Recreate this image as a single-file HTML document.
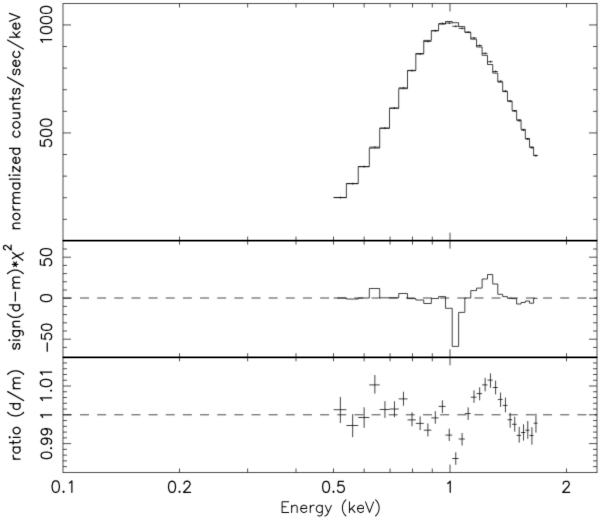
<!DOCTYPE html>
<html><head><meta charset="utf-8"><style>
html,body{margin:0;padding:0;background:#fff;overflow:hidden;width:600px;height:519px;}
svg{display:block;} path,line{mix-blend-mode:darken;}

</style></head><body>
<svg width="600" height="519" viewBox="0 0 600 519">
<defs><filter id="bl" color-interpolation-filters="sRGB" x="0" y="0" width="600" height="519" filterUnits="userSpaceOnUse"><feConvolveMatrix order="3" kernelMatrix="0.01 0.08 0.01 0.08 0.64 0.08 0.01 0.08 0.01" divisor="1" edgeMode="duplicate"/></filter></defs>
<rect width="600" height="519" fill="#fff"/>
<g filter="url(#bl)">
<rect width="600" height="519" fill="#fff"/>
<path d="M63.00,3.50L63.00,240.60M597.00,3.50L597.00,240.60M179.50,3.50L179.50,7.50M179.50,240.60L179.50,236.60M247.65,3.50L247.65,7.50M247.65,240.60L247.65,236.60M296.00,3.50L296.00,7.50M296.00,240.60L296.00,236.60M333.50,3.50L333.50,7.50M333.50,240.60L333.50,236.60M364.14,3.50L364.14,7.50M364.14,240.60L364.14,236.60M390.05,3.50L390.05,7.50M390.05,240.60L390.05,236.60M412.50,3.50L412.50,7.50M412.50,240.60L412.50,236.60M432.29,3.50L432.29,7.50M432.29,240.60L432.29,236.60M450.00,3.50L450.00,11.50M450.00,240.60L450.00,232.60M566.50,3.50L566.50,7.50M566.50,240.60L566.50,236.60M63.00,240.60L63.00,357.30M597.00,240.60L597.00,357.30M179.50,240.60L179.50,244.60M179.50,357.30L179.50,353.30M247.65,240.60L247.65,244.60M247.65,357.30L247.65,353.30M296.00,240.60L296.00,244.60M296.00,357.30L296.00,353.30M333.50,240.60L333.50,244.60M333.50,357.30L333.50,353.30M364.14,240.60L364.14,244.60M364.14,357.30L364.14,353.30M390.05,240.60L390.05,244.60M390.05,357.30L390.05,353.30M412.50,240.60L412.50,244.60M412.50,357.30L412.50,353.30M432.29,240.60L432.29,244.60M432.29,357.30L432.29,353.30M450.00,240.60L450.00,248.60M450.00,357.30L450.00,349.30M566.50,240.60L566.50,244.60M566.50,357.30L566.50,353.30M63.00,357.30L63.00,472.50M597.00,357.30L597.00,472.50M179.50,357.30L179.50,361.30M179.50,472.50L179.50,468.50M247.65,357.30L247.65,361.30M247.65,472.50L247.65,468.50M296.00,357.30L296.00,361.30M296.00,472.50L296.00,468.50M333.50,357.30L333.50,361.30M333.50,472.50L333.50,468.50M364.14,357.30L364.14,361.30M364.14,472.50L364.14,468.50M390.05,357.30L390.05,361.30M390.05,472.50L390.05,468.50M412.50,357.30L412.50,361.30M412.50,472.50L412.50,468.50M432.29,357.30L432.29,361.30M432.29,472.50L432.29,468.50M450.00,357.30L450.00,365.30M450.00,472.50L450.00,464.50M566.50,357.30L566.50,361.30M566.50,472.50L566.50,468.50M62.65,3.50L597.35,3.50M62.65,472.50L597.35,472.50M63.00,219.33L67.00,219.33M597.00,219.33L593.00,219.33M63.00,197.73L67.00,197.73M597.00,197.73L593.00,197.73M63.00,176.13L67.00,176.13M597.00,176.13L593.00,176.13M63.00,154.53L67.00,154.53M597.00,154.53L593.00,154.53M63.00,132.93L71.00,132.93M597.00,132.93L589.00,132.93M63.00,111.33L67.00,111.33M597.00,111.33L593.00,111.33M63.00,89.73L67.00,89.73M597.00,89.73L593.00,89.73M63.00,68.13L67.00,68.13M597.00,68.13L593.00,68.13M63.00,46.53L67.00,46.53M597.00,46.53L593.00,46.53M63.00,24.93L71.00,24.93M597.00,24.93L589.00,24.93M63.00,347.40L67.00,347.40M597.00,347.40L593.00,347.40M63.00,339.20L71.00,339.20M597.00,339.20L589.00,339.20M63.00,331.00L67.00,331.00M597.00,331.00L593.00,331.00M63.00,322.80L67.00,322.80M597.00,322.80L593.00,322.80M63.00,314.60L67.00,314.60M597.00,314.60L593.00,314.60M63.00,306.40L67.00,306.40M597.00,306.40L593.00,306.40M63.00,298.20L71.00,298.20M597.00,298.20L589.00,298.20M63.00,290.00L67.00,290.00M597.00,290.00L593.00,290.00M63.00,281.80L67.00,281.80M597.00,281.80L593.00,281.80M63.00,273.60L67.00,273.60M597.00,273.60L593.00,273.60M63.00,265.40L67.00,265.40M597.00,265.40L593.00,265.40M63.00,257.20L71.00,257.20M597.00,257.20L589.00,257.20M63.00,249.00L67.00,249.00M597.00,249.00L593.00,249.00M63.00,466.64L67.00,466.64M597.00,466.64L593.00,466.64M63.00,460.88L67.00,460.88M597.00,460.88L593.00,460.88M63.00,455.12L67.00,455.12M597.00,455.12L593.00,455.12M63.00,449.36L67.00,449.36M597.00,449.36L593.00,449.36M63.00,443.60L71.00,443.60M597.00,443.60L589.00,443.60M63.00,437.84L67.00,437.84M597.00,437.84L593.00,437.84M63.00,432.08L67.00,432.08M597.00,432.08L593.00,432.08M63.00,426.32L67.00,426.32M597.00,426.32L593.00,426.32M63.00,420.56L67.00,420.56M597.00,420.56L593.00,420.56M63.00,414.80L71.00,414.80M597.00,414.80L589.00,414.80M63.00,409.04L67.00,409.04M597.00,409.04L593.00,409.04M63.00,403.28L67.00,403.28M597.00,403.28L593.00,403.28M63.00,397.52L67.00,397.52M597.00,397.52L593.00,397.52M63.00,391.76L67.00,391.76M597.00,391.76L593.00,391.76M63.00,386.00L71.00,386.00M597.00,386.00L589.00,386.00M63.00,380.24L67.00,380.24M597.00,380.24L593.00,380.24M63.00,374.48L67.00,374.48M597.00,374.48L593.00,374.48M63.00,368.72L67.00,368.72M597.00,368.72L593.00,368.72M63.00,362.96L67.00,362.96M597.00,362.96L593.00,362.96" fill="none" stroke="#000" stroke-width="0.7"/>
<path d="M333.64,197.60L346.39,197.60L346.39,183.50L358.24,183.50L358.24,166.60L369.32,166.60L369.32,148.10L379.70,148.10L379.70,128.30L389.49,128.30L389.49,108.30L398.73,108.30L398.73,88.70L407.50,88.70L407.50,70.40L415.82,70.40L415.82,53.50L423.76,53.50L423.76,40.40L431.34,40.40L431.34,30.60L438.59,30.60L438.59,24.10L445.54,24.10L445.54,21.50L452.21,21.50L452.21,22.70L458.63,22.70L458.63,26.55L464.82,26.55L464.82,32.30L470.78,32.30L470.78,39.20L476.54,39.20L476.54,47.00L482.11,47.00L482.11,55.30L487.50,55.30L487.50,64.50L492.72,64.50L492.72,73.10L497.79,73.10L497.79,82.10L502.70,82.10L502.70,91.60L507.48,91.60L507.48,101.00L512.12,101.00L512.12,110.60L516.64,110.60L516.64,119.80L521.05,119.80L521.05,129.40L525.34,129.40L525.34,138.50L529.52,138.50L529.52,147.00L533.60,147.00L533.60,155.40L537.58,155.40M333.64,197.52L346.39,197.52M340.36,196.52L340.36,198.52M346.39,183.71L358.24,183.71M352.67,182.71L352.67,184.71M358.24,166.67L369.32,166.67M364.13,165.67L364.13,167.67M369.32,147.14L379.70,147.14M374.86,146.14L374.86,148.14M379.70,128.09L389.49,128.09M384.95,127.09L384.95,129.09M389.49,108.03L398.73,108.03M394.46,107.03L394.46,109.03M398.73,87.86L407.50,87.86M403.46,86.86L403.46,88.86M407.50,70.70L415.82,70.70M412.01,69.70L412.01,71.70M415.82,54.06L423.76,54.06M420.14,53.06L420.14,55.06M423.76,41.47L431.34,41.47M427.90,40.47L427.90,42.47M431.34,30.83L438.59,30.83M435.31,29.83L435.31,31.83M438.59,23.47L445.54,23.47M442.41,22.47L442.41,24.47M445.54,23.05L452.21,23.05M449.23,22.05L449.23,24.05M452.21,26.30L458.63,26.30M455.77,25.30L455.77,27.30M458.63,28.35L464.82,28.35M462.07,27.35L462.07,29.35M464.82,32.21L470.78,32.21M468.15,31.21L468.15,33.21M470.78,37.97L476.54,37.97M474.01,36.97L474.01,38.97M476.54,45.57L482.11,45.57M479.67,44.57L479.67,46.57M482.11,53.37L487.50,53.37M485.15,52.37L485.15,54.37M487.50,61.70L492.72,61.70M490.46,60.70L490.46,62.70M492.72,71.51L497.79,71.51M495.60,70.51L495.60,72.51M497.79,81.25L502.70,81.25M500.59,80.25L500.59,82.25M502.70,91.11L507.48,91.11M505.44,90.11L505.44,92.11M507.48,101.24L512.12,101.24M510.15,100.24L510.15,102.24M512.12,111.03L516.64,111.03M514.73,110.03L514.73,112.03M516.64,120.67L521.05,120.67M519.20,119.67L519.20,121.67M521.05,130.09L525.34,130.09M523.54,129.09L523.54,131.09M525.34,139.05L529.52,139.05M527.78,138.05L527.78,140.05M529.52,147.68L533.60,147.68M531.91,146.68L531.91,148.68M533.60,155.65L537.58,155.65M535.94,154.65L535.94,156.65M333.64,298.00L346.39,298.00L346.39,299.00L358.24,299.00L358.24,298.00L369.32,298.00L369.32,288.50L379.70,288.50L379.70,297.80L389.49,297.80L389.49,297.80L398.73,297.80L398.73,293.50L407.50,293.50L407.50,298.60L415.82,298.60L415.82,300.00L423.76,300.00L423.76,303.50L431.34,303.50L431.34,298.50L438.59,298.50L438.59,296.60L445.54,296.60L445.54,308.30L452.21,308.30L452.21,346.40L458.63,346.40L458.63,312.40L464.82,312.40L464.82,298.00L470.78,298.00L470.78,290.60L476.54,290.60L476.54,288.10L482.11,288.10L482.11,279.00L487.50,279.00L487.50,274.50L492.72,274.50L492.72,284.00L497.79,284.00L497.79,294.30L502.70,294.30L502.70,296.60L507.48,296.60L507.48,298.30L512.12,298.30L512.12,298.60L516.64,298.60L516.64,304.00L521.05,304.00L521.05,302.50L525.34,302.50L525.34,301.00L529.52,301.00L529.52,303.20L533.60,303.20L533.60,298.30L537.58,298.30M333.64,409.70L346.39,409.70M340.36,396.90L340.36,423.00M346.39,425.50L358.24,425.50M352.67,414.10L352.67,437.20M358.24,417.50L369.32,417.50M364.13,407.30L364.13,427.80M369.32,384.90L379.70,384.90M374.86,375.00L374.86,393.60M379.70,409.50L389.49,409.50M384.95,401.10L384.95,417.90M389.49,409.00L398.73,409.00M394.46,401.30L394.46,417.20M398.73,398.90L407.50,398.90M403.46,391.70L403.46,405.80M407.50,419.90L415.82,419.90M412.01,412.30L412.01,426.30M415.82,423.40L423.76,423.40M420.14,416.40L420.14,430.20M423.76,430.20L431.34,430.20M427.90,423.40L427.90,436.40M431.34,417.90L438.59,417.90M435.31,411.20L435.31,423.70M438.59,406.40L445.54,406.40M442.41,400.30L442.41,413.00M445.54,435.10L452.21,435.10M449.23,428.70L449.23,441.00M452.21,458.50L458.63,458.50M455.77,452.30L455.77,464.80M458.63,439.00L464.82,439.00M462.07,433.00L462.07,445.50M464.82,413.60L470.78,413.60M468.15,407.40L468.15,419.90M470.78,397.20L476.54,397.20M474.01,390.40L474.01,402.80M476.54,393.60L482.11,393.60M479.67,387.30L479.67,400.30M482.11,384.90L487.50,384.90M485.15,377.90L485.15,391.40M487.50,380.10L492.72,380.10M490.46,373.40L490.46,387.80M492.72,387.50L497.79,387.50M495.60,380.60L495.60,394.40M497.79,399.40L502.70,399.40M500.59,392.50L500.59,406.90M502.70,405.40L507.48,405.40M505.44,397.50L505.44,412.30M507.48,419.70L512.12,419.70M510.15,412.80L510.15,427.70M512.12,424.30L516.64,424.30M514.73,416.70L514.73,431.70M516.64,435.40L521.05,435.40M519.20,426.90L519.20,442.70M521.05,432.50L525.34,432.50M523.54,424.30L523.54,440.60M525.34,430.20L529.52,430.20M527.78,421.00L527.78,438.80M529.52,435.50L533.60,435.50M531.91,427.10L531.91,444.70M533.60,423.20L537.58,423.20M535.94,413.70L535.94,432.60" fill="none" stroke="#000" stroke-width="0.75"/>
<path d="M62.85,298.00L71.85,298.00M80.00,298.00L89.00,298.00M97.15,298.00L106.15,298.00M114.30,298.00L123.30,298.00M131.45,298.00L140.45,298.00M148.60,298.00L157.60,298.00M165.75,298.00L174.75,298.00M182.90,298.00L191.90,298.00M200.05,298.00L209.05,298.00M217.20,298.00L226.20,298.00M234.35,298.00L243.35,298.00M251.50,298.00L260.50,298.00M268.65,298.00L277.65,298.00M285.80,298.00L294.80,298.00M302.95,298.00L311.95,298.00M320.10,298.00L329.10,298.00M337.25,298.00L346.25,298.00M354.40,298.00L363.40,298.00M371.55,298.00L380.55,298.00M388.70,298.00L397.70,298.00M405.85,298.00L414.85,298.00M423.00,298.00L432.00,298.00M440.15,298.00L449.15,298.00M457.30,298.00L466.30,298.00M474.45,298.00L483.45,298.00M491.60,298.00L500.60,298.00M508.75,298.00L517.75,298.00M525.90,298.00L534.90,298.00M543.05,298.00L552.05,298.00M560.20,298.00L569.20,298.00M577.35,298.00L586.35,298.00M594.50,298.00L597.00,298.00M62.85,414.80L71.85,414.80M80.00,414.80L89.00,414.80M97.15,414.80L106.15,414.80M114.30,414.80L123.30,414.80M131.45,414.80L140.45,414.80M148.60,414.80L157.60,414.80M165.75,414.80L174.75,414.80M182.90,414.80L191.90,414.80M200.05,414.80L209.05,414.80M217.20,414.80L226.20,414.80M234.35,414.80L243.35,414.80M251.50,414.80L260.50,414.80M268.65,414.80L277.65,414.80M285.80,414.80L294.80,414.80M302.95,414.80L311.95,414.80M320.10,414.80L329.10,414.80M337.25,414.80L346.25,414.80M354.40,414.80L363.40,414.80M371.55,414.80L380.55,414.80M388.70,414.80L397.70,414.80M405.85,414.80L414.85,414.80M423.00,414.80L432.00,414.80M440.15,414.80L449.15,414.80M457.30,414.80L466.30,414.80M474.45,414.80L483.45,414.80M491.60,414.80L500.60,414.80M508.75,414.80L517.75,414.80M525.90,414.80L534.90,414.80M543.05,414.80L552.05,414.80M560.20,414.80L569.20,414.80M577.35,414.80L586.35,414.80M594.50,414.80L597.00,414.80" fill="none" stroke="#000" stroke-width="0.72"/>
<path transform="translate(19.90,230.66) rotate(-90) scale(0.4951,0.4951)" d="M4.00,-14.00 L4.00,-0.00 M4.00,-10.00 L7.00,-13.00 L9.00,-14.00 L12.00,-14.00 L14.00,-13.00 L15.00,-10.00 L15.00,-0.00 M27.00,-14.00 L25.00,-13.00 L23.00,-11.00 L22.00,-8.00 L22.00,-6.00 L23.00,-3.00 L25.00,-1.00 L27.00,-0.00 L30.00,-0.00 L32.00,-1.00 L34.00,-3.00 L35.00,-6.00 L35.00,-8.00 L34.00,-11.00 L32.00,-13.00 L30.00,-14.00 L27.00,-14.00 M42.00,-14.00 L42.00,-0.00 M42.00,-8.00 L43.00,-11.00 L45.00,-13.00 L47.00,-14.00 L50.00,-14.00 M55.00,-14.00 L55.00,-0.00 M55.00,-10.00 L58.00,-13.00 L60.00,-14.00 L63.00,-14.00 L65.00,-13.00 L66.00,-10.00 L66.00,-0.00 M66.00,-10.00 L69.00,-13.00 L71.00,-14.00 L74.00,-14.00 L76.00,-13.00 L77.00,-10.00 L77.00,-0.00 M96.00,-14.00 L96.00,-0.00 M96.00,-11.00 L94.00,-13.00 L92.00,-14.00 L89.00,-14.00 L87.00,-13.00 L85.00,-11.00 L84.00,-8.00 L84.00,-6.00 L85.00,-3.00 L87.00,-1.00 L89.00,-0.00 L92.00,-0.00 L94.00,-1.00 L96.00,-3.00 M104.00,-21.00 L104.00,-0.00 M111.00,-21.00 L112.00,-20.00 L113.00,-21.00 L112.00,-22.00 L111.00,-21.00 M112.00,-14.00 L112.00,-0.00 M130.00,-14.00 L119.00,-0.00 M119.00,-14.00 L130.00,-14.00 M119.00,-0.00 L130.00,-0.00 M136.00,-8.00 L148.00,-8.00 L148.00,-10.00 L147.00,-12.00 L146.00,-13.00 L144.00,-14.00 L141.00,-14.00 L139.00,-13.00 L137.00,-11.00 L136.00,-8.00 L136.00,-6.00 L137.00,-3.00 L139.00,-1.00 L141.00,-0.00 L144.00,-0.00 L146.00,-1.00 L148.00,-3.00 M166.00,-21.00 L166.00,-0.00 M166.00,-11.00 L164.00,-13.00 L162.00,-14.00 L159.00,-14.00 L157.00,-13.00 L155.00,-11.00 L154.00,-8.00 L154.00,-6.00 L155.00,-3.00 L157.00,-1.00 L159.00,-0.00 L162.00,-0.00 L164.00,-1.00 L166.00,-3.00 M201.00,-11.00 L199.00,-13.00 L197.00,-14.00 L194.00,-14.00 L192.00,-13.00 L190.00,-11.00 L189.00,-8.00 L189.00,-6.00 L190.00,-3.00 L192.00,-1.00 L194.00,-0.00 L197.00,-0.00 L199.00,-1.00 L201.00,-3.00 M212.00,-14.00 L210.00,-13.00 L208.00,-11.00 L207.00,-8.00 L207.00,-6.00 L208.00,-3.00 L210.00,-1.00 L212.00,-0.00 L215.00,-0.00 L217.00,-1.00 L219.00,-3.00 L220.00,-6.00 L220.00,-8.00 L219.00,-11.00 L217.00,-13.00 L215.00,-14.00 L212.00,-14.00 M227.00,-14.00 L227.00,-4.00 L228.00,-1.00 L230.00,-0.00 L233.00,-0.00 L235.00,-1.00 L238.00,-4.00 M238.00,-14.00 L238.00,-0.00 M246.00,-14.00 L246.00,-0.00 M246.00,-10.00 L249.00,-13.00 L251.00,-14.00 L254.00,-14.00 L256.00,-13.00 L257.00,-10.00 L257.00,-0.00 M266.00,-21.00 L266.00,-4.00 L267.00,-1.00 L269.00,-0.00 L271.00,-0.00 M263.00,-14.00 L270.00,-14.00 M287.00,-11.00 L286.00,-13.00 L283.00,-14.00 L280.00,-14.00 L277.00,-13.00 L276.00,-11.00 L277.00,-9.00 L279.00,-8.00 L284.00,-7.00 L286.00,-6.00 L287.00,-4.00 L287.00,-3.00 L286.00,-1.00 L283.00,-0.00 L280.00,-0.00 L277.00,-1.00 L276.00,-3.00 M310.00,-25.00 L292.00,7.00 M326.00,-11.00 L325.00,-13.00 L322.00,-14.00 L319.00,-14.00 L316.00,-13.00 L315.00,-11.00 L316.00,-9.00 L318.00,-8.00 L323.00,-7.00 L325.00,-6.00 L326.00,-4.00 L326.00,-3.00 L325.00,-1.00 L322.00,-0.00 L319.00,-0.00 L316.00,-1.00 L315.00,-3.00 M332.00,-8.00 L344.00,-8.00 L344.00,-10.00 L343.00,-12.00 L342.00,-13.00 L340.00,-14.00 L337.00,-14.00 L335.00,-13.00 L333.00,-11.00 L332.00,-8.00 L332.00,-6.00 L333.00,-3.00 L335.00,-1.00 L337.00,-0.00 L340.00,-0.00 L342.00,-1.00 L344.00,-3.00 M362.00,-11.00 L360.00,-13.00 L358.00,-14.00 L355.00,-14.00 L353.00,-13.00 L351.00,-11.00 L350.00,-8.00 L350.00,-6.00 L351.00,-3.00 L353.00,-1.00 L355.00,-0.00 L358.00,-0.00 L360.00,-1.00 L362.00,-3.00 M385.00,-25.00 L367.00,7.00 M391.00,-21.00 L391.00,-0.00 M401.00,-14.00 L391.00,-4.00 M395.00,-8.00 L402.00,-0.00 M407.00,-8.00 L419.00,-8.00 L419.00,-10.00 L418.00,-12.00 L417.00,-13.00 L415.00,-14.00 L412.00,-14.00 L410.00,-13.00 L408.00,-11.00 L407.00,-8.00 L407.00,-6.00 L408.00,-3.00 L410.00,-1.00 L412.00,-0.00 L415.00,-0.00 L417.00,-1.00 L419.00,-3.00 M423.00,-21.00 L431.00,-0.00 M439.00,-21.00 L431.00,-0.00" fill="none" stroke="#000" stroke-width="2.525" stroke-linecap="round" stroke-linejoin="round"/>
<path transform="translate(51.60,45.20) rotate(-90) scale(0.5035,0.5287)" d="M6.00,-17.00 L8.00,-18.00 L11.00,-21.00 L11.00,-0.00 M29.00,-21.00 L26.00,-20.00 L24.00,-17.00 L23.00,-12.00 L23.00,-9.00 L24.00,-4.00 L26.00,-1.00 L29.00,-0.00 L31.00,-0.00 L34.00,-1.00 L36.00,-4.00 L37.00,-9.00 L37.00,-12.00 L36.00,-17.00 L34.00,-20.00 L31.00,-21.00 L29.00,-21.00 M49.00,-21.00 L46.00,-20.00 L44.00,-17.00 L43.00,-12.00 L43.00,-9.00 L44.00,-4.00 L46.00,-1.00 L49.00,-0.00 L51.00,-0.00 L54.00,-1.00 L56.00,-4.00 L57.00,-9.00 L57.00,-12.00 L56.00,-17.00 L54.00,-20.00 L51.00,-21.00 L49.00,-21.00 M69.00,-21.00 L66.00,-20.00 L64.00,-17.00 L63.00,-12.00 L63.00,-9.00 L64.00,-4.00 L66.00,-1.00 L69.00,-0.00 L71.00,-0.00 L74.00,-1.00 L76.00,-4.00 L77.00,-9.00 L77.00,-12.00 L76.00,-17.00 L74.00,-20.00 L71.00,-21.00 L69.00,-21.00" fill="none" stroke="#000" stroke-width="2.422" stroke-linecap="round" stroke-linejoin="round"/>
<path transform="translate(51.60,148.10) rotate(-90) scale(0.5083,0.5337)" d="M15.00,-21.00 L5.00,-21.00 L4.00,-12.00 L5.00,-13.00 L8.00,-14.00 L11.00,-14.00 L14.00,-13.00 L16.00,-11.00 L17.00,-8.00 L17.00,-6.00 L16.00,-3.00 L14.00,-1.00 L11.00,-0.00 L8.00,-0.00 L5.00,-1.00 L4.00,-2.00 L3.00,-4.00 M29.00,-21.00 L26.00,-20.00 L24.00,-17.00 L23.00,-12.00 L23.00,-9.00 L24.00,-4.00 L26.00,-1.00 L29.00,-0.00 L31.00,-0.00 L34.00,-1.00 L36.00,-4.00 L37.00,-9.00 L37.00,-12.00 L36.00,-17.00 L34.00,-20.00 L31.00,-21.00 L29.00,-21.00 M49.00,-21.00 L46.00,-20.00 L44.00,-17.00 L43.00,-12.00 L43.00,-9.00 L44.00,-4.00 L46.00,-1.00 L49.00,-0.00 L51.00,-0.00 L54.00,-1.00 L56.00,-4.00 L57.00,-9.00 L57.00,-12.00 L56.00,-17.00 L54.00,-20.00 L51.00,-21.00 L49.00,-21.00" fill="none" stroke="#000" stroke-width="2.399" stroke-linecap="round" stroke-linejoin="round"/>
<path transform="translate(51.60,267.30) rotate(-90) scale(0.5074,0.5327)" d="M15.00,-21.00 L5.00,-21.00 L4.00,-12.00 L5.00,-13.00 L8.00,-14.00 L11.00,-14.00 L14.00,-13.00 L16.00,-11.00 L17.00,-8.00 L17.00,-6.00 L16.00,-3.00 L14.00,-1.00 L11.00,-0.00 L8.00,-0.00 L5.00,-1.00 L4.00,-2.00 L3.00,-4.00 M29.00,-21.00 L26.00,-20.00 L24.00,-17.00 L23.00,-12.00 L23.00,-9.00 L24.00,-4.00 L26.00,-1.00 L29.00,-0.00 L31.00,-0.00 L34.00,-1.00 L36.00,-4.00 L37.00,-9.00 L37.00,-12.00 L36.00,-17.00 L34.00,-20.00 L31.00,-21.00 L29.00,-21.00" fill="none" stroke="#000" stroke-width="2.404" stroke-linecap="round" stroke-linejoin="round"/>
<path transform="translate(51.60,303.07) rotate(-90) scale(0.5000,0.5250)" d="M9.00,-21.00 L6.00,-20.00 L4.00,-17.00 L3.00,-12.00 L3.00,-9.00 L4.00,-4.00 L6.00,-1.00 L9.00,-0.00 L11.00,-0.00 L14.00,-1.00 L16.00,-4.00 L17.00,-9.00 L17.00,-12.00 L16.00,-17.00 L14.00,-20.00 L11.00,-21.00 L9.00,-21.00" fill="none" stroke="#000" stroke-width="2.439" stroke-linecap="round" stroke-linejoin="round"/>
<path transform="translate(51.60,353.02) rotate(-90) scale(0.4602,0.4832)" d="M4.00,-9.00 L22.00,-9.00 M41.00,-21.00 L31.00,-21.00 L30.00,-12.00 L31.00,-13.00 L34.00,-14.00 L37.00,-14.00 L40.00,-13.00 L42.00,-11.00 L43.00,-8.00 L43.00,-6.00 L42.00,-3.00 L40.00,-1.00 L37.00,-0.00 L34.00,-0.00 L31.00,-1.00 L30.00,-2.00 L29.00,-4.00 M55.00,-21.00 L52.00,-20.00 L50.00,-17.00 L49.00,-12.00 L49.00,-9.00 L50.00,-4.00 L52.00,-1.00 L55.00,-0.00 L57.00,-0.00 L60.00,-1.00 L62.00,-4.00 L63.00,-9.00 L63.00,-12.00 L62.00,-17.00 L60.00,-20.00 L57.00,-21.00 L55.00,-21.00" fill="none" stroke="#000" stroke-width="2.650" stroke-linecap="round" stroke-linejoin="round"/>
<path transform="translate(51.60,403.45) rotate(-90) scale(0.5118,0.5374)" d="M6.00,-17.00 L8.00,-18.00 L11.00,-21.00 L11.00,-0.00 M25.00,-2.00 L24.00,-1.00 L25.00,-0.00 L26.00,-1.00 L25.00,-2.00 M39.00,-21.00 L36.00,-20.00 L34.00,-17.00 L33.00,-12.00 L33.00,-9.00 L34.00,-4.00 L36.00,-1.00 L39.00,-0.00 L41.00,-0.00 L44.00,-1.00 L46.00,-4.00 L47.00,-9.00 L47.00,-12.00 L46.00,-17.00 L44.00,-20.00 L41.00,-21.00 L39.00,-21.00 M56.00,-17.00 L58.00,-18.00 L61.00,-21.00 L61.00,-0.00" fill="none" stroke="#000" stroke-width="2.383" stroke-linecap="round" stroke-linejoin="round"/>
<path transform="translate(51.60,420.38) rotate(-90) scale(0.5000,0.5250)" d="M6.00,-17.00 L8.00,-18.00 L11.00,-21.00 L11.00,-0.00" fill="none" stroke="#000" stroke-width="2.439" stroke-linecap="round" stroke-linejoin="round"/>
<path transform="translate(51.60,460.10) rotate(-90) scale(0.4754,0.4992)" d="M9.00,-21.00 L6.00,-20.00 L4.00,-17.00 L3.00,-12.00 L3.00,-9.00 L4.00,-4.00 L6.00,-1.00 L9.00,-0.00 L11.00,-0.00 L14.00,-1.00 L16.00,-4.00 L17.00,-9.00 L17.00,-12.00 L16.00,-17.00 L14.00,-20.00 L11.00,-21.00 L9.00,-21.00 M25.00,-2.00 L24.00,-1.00 L25.00,-0.00 L26.00,-1.00 L25.00,-2.00 M46.00,-14.00 L45.00,-11.00 L43.00,-9.00 L40.00,-8.00 L39.00,-8.00 L36.00,-9.00 L34.00,-11.00 L33.00,-14.00 L33.00,-15.00 L34.00,-18.00 L36.00,-20.00 L39.00,-21.00 L40.00,-21.00 L43.00,-20.00 L45.00,-18.00 L46.00,-14.00 L46.00,-9.00 L45.00,-4.00 L43.00,-1.00 L40.00,-0.00 L38.00,-0.00 L35.00,-1.00 L34.00,-3.00 M66.00,-14.00 L65.00,-11.00 L63.00,-9.00 L60.00,-8.00 L59.00,-8.00 L56.00,-9.00 L54.00,-11.00 L53.00,-14.00 L53.00,-15.00 L54.00,-18.00 L56.00,-20.00 L59.00,-21.00 L60.00,-21.00 L63.00,-20.00 L65.00,-18.00 L66.00,-14.00 L66.00,-9.00 L65.00,-4.00 L63.00,-1.00 L60.00,-0.00 L58.00,-0.00 L55.00,-1.00 L54.00,-3.00" fill="none" stroke="#000" stroke-width="2.565" stroke-linecap="round" stroke-linejoin="round"/>
<path transform="translate(20.10,461.06) rotate(-90) scale(0.4958,0.4958)" d="M4.00,-14.00 L4.00,-0.00 M4.00,-8.00 L5.00,-11.00 L7.00,-13.00 L9.00,-14.00 L12.00,-14.00 M28.00,-14.00 L28.00,-0.00 M28.00,-11.00 L26.00,-13.00 L24.00,-14.00 L21.00,-14.00 L19.00,-13.00 L17.00,-11.00 L16.00,-8.00 L16.00,-6.00 L17.00,-3.00 L19.00,-1.00 L21.00,-0.00 L24.00,-0.00 L26.00,-1.00 L28.00,-3.00 M37.00,-21.00 L37.00,-4.00 L38.00,-1.00 L40.00,-0.00 L42.00,-0.00 M34.00,-14.00 L41.00,-14.00 M47.00,-21.00 L48.00,-20.00 L49.00,-21.00 L48.00,-22.00 L47.00,-21.00 M48.00,-14.00 L48.00,-0.00 M60.00,-14.00 L58.00,-13.00 L56.00,-11.00 L55.00,-8.00 L55.00,-6.00 L56.00,-3.00 L58.00,-1.00 L60.00,-0.00 L63.00,-0.00 L65.00,-1.00 L67.00,-3.00 L68.00,-6.00 L68.00,-8.00 L67.00,-11.00 L65.00,-13.00 L63.00,-14.00 L60.00,-14.00 M98.00,-25.00 L96.00,-23.00 L94.00,-20.00 L92.00,-16.00 L91.00,-11.00 L91.00,-7.00 L92.00,-2.00 L94.00,2.00 L96.00,5.00 L98.00,7.00 M116.00,-21.00 L116.00,-0.00 M116.00,-11.00 L114.00,-13.00 L112.00,-14.00 L109.00,-14.00 L107.00,-13.00 L105.00,-11.00 L104.00,-8.00 L104.00,-6.00 L105.00,-3.00 L107.00,-1.00 L109.00,-0.00 L112.00,-0.00 L114.00,-1.00 L116.00,-3.00 M140.00,-25.00 L122.00,7.00 M146.00,-14.00 L146.00,-0.00 M146.00,-10.00 L149.00,-13.00 L151.00,-14.00 L154.00,-14.00 L156.00,-13.00 L157.00,-10.00 L157.00,-0.00 M157.00,-10.00 L160.00,-13.00 L162.00,-14.00 L165.00,-14.00 L167.00,-13.00 L168.00,-10.00 L168.00,-0.00 M175.00,-25.00 L177.00,-23.00 L179.00,-20.00 L181.00,-16.00 L182.00,-11.00 L182.00,-7.00 L181.00,-2.00 L179.00,2.00 L177.00,5.00 L175.00,7.00" fill="none" stroke="#000" stroke-width="2.521" stroke-linecap="round" stroke-linejoin="round"/>
<path transform="translate(19.80,350.56) rotate(-90) scale(0.4960,0.4960)" d="M14.00,-11.00 L13.00,-13.00 L10.00,-14.00 L7.00,-14.00 L4.00,-13.00 L3.00,-11.00 L4.00,-9.00 L6.00,-8.00 L11.00,-7.00 L13.00,-6.00 L14.00,-4.00 L14.00,-3.00 L13.00,-1.00 L10.00,-0.00 L7.00,-0.00 L4.00,-1.00 L3.00,-3.00 M20.00,-21.00 L21.00,-20.00 L22.00,-21.00 L21.00,-22.00 L20.00,-21.00 M21.00,-14.00 L21.00,-0.00 M40.00,-14.00 L40.00,2.00 L39.00,5.00 L38.00,6.00 L36.00,7.00 L33.00,7.00 L31.00,6.00 M40.00,-11.00 L38.00,-13.00 L36.00,-14.00 L33.00,-14.00 L31.00,-13.00 L29.00,-11.00 L28.00,-8.00 L28.00,-6.00 L29.00,-3.00 L31.00,-1.00 L33.00,-0.00 L36.00,-0.00 L38.00,-1.00 L40.00,-3.00 M48.00,-14.00 L48.00,-0.00 M48.00,-10.00 L51.00,-13.00 L53.00,-14.00 L56.00,-14.00 L58.00,-13.00 L59.00,-10.00 L59.00,-0.00 M74.00,-25.00 L72.00,-23.00 L70.00,-20.00 L68.00,-16.00 L67.00,-11.00 L67.00,-7.00 L68.00,-2.00 L70.00,2.00 L72.00,5.00 L74.00,7.00 M92.00,-21.00 L92.00,-0.00 M92.00,-11.00 L90.00,-13.00 L88.00,-14.00 L85.00,-14.00 L83.00,-13.00 L81.00,-11.00 L80.00,-8.00 L80.00,-6.00 L81.00,-3.00 L83.00,-1.00 L85.00,-0.00 L88.00,-0.00 L90.00,-1.00 L92.00,-3.00 M100.00,-9.00 L118.00,-9.00 M126.00,-14.00 L126.00,-0.00 M126.00,-10.00 L129.00,-13.00 L131.00,-14.00 L134.00,-14.00 L136.00,-13.00 L137.00,-10.00 L137.00,-0.00 M137.00,-10.00 L140.00,-13.00 L142.00,-14.00 L145.00,-14.00 L147.00,-13.00 L148.00,-10.00 L148.00,-0.00 M155.00,-25.00 L157.00,-23.00 L159.00,-20.00 L161.00,-16.00 L162.00,-11.00 L162.00,-7.00 L161.00,-2.00 L159.00,2.00 L157.00,5.00 L155.00,7.00 M174.00,-4.00 L174.00,-15.00 M169.50,-12.20 L178.50,-6.80 M178.50,-12.20 L169.50,-6.80" fill="none" stroke="#000" stroke-width="2.520" stroke-linecap="round" stroke-linejoin="round"/>
<path transform="translate(19.8,261.50) rotate(-90) scale(0.5)" d="M5.80,-14.60 L7.50,-12.50 L11.60,-5.00 L15.00,5.00 L16.30,6.40 L17.80,6.80 M18.00,-14.40 L2.40,6.00" fill="none" stroke="#000" stroke-width="2.500" stroke-linecap="round" stroke-linejoin="round"/>
<path transform="translate(11.10,251.03) rotate(-90) scale(0.3500,0.3600)" d="M4.00,-16.00 L4.00,-17.00 L5.00,-19.00 L6.00,-20.00 L8.00,-21.00 L12.00,-21.00 L14.00,-20.00 L15.00,-19.00 L16.00,-17.00 L16.00,-15.00 L15.00,-13.00 L13.00,-10.00 L3.00,-0.00 L17.00,-0.00" fill="none" stroke="#000" stroke-width="3.521" stroke-linecap="round" stroke-linejoin="round"/>
<path transform="translate(50.57,492.30) scale(0.5197,0.5457)" d="M9.00,-21.00 L6.00,-20.00 L4.00,-17.00 L3.00,-12.00 L3.00,-9.00 L4.00,-4.00 L6.00,-1.00 L9.00,-0.00 L11.00,-0.00 L14.00,-1.00 L16.00,-4.00 L17.00,-9.00 L17.00,-12.00 L16.00,-17.00 L14.00,-20.00 L11.00,-21.00 L9.00,-21.00 M25.00,-2.00 L24.00,-1.00 L25.00,-0.00 L26.00,-1.00 L25.00,-2.00 M36.00,-17.00 L38.00,-18.00 L41.00,-21.00 L41.00,-0.00" fill="none" stroke="#000" stroke-width="2.346" stroke-linecap="round" stroke-linejoin="round"/>
<path transform="translate(167.02,492.30) scale(0.5011,0.5262)" d="M9.00,-21.00 L6.00,-20.00 L4.00,-17.00 L3.00,-12.00 L3.00,-9.00 L4.00,-4.00 L6.00,-1.00 L9.00,-0.00 L11.00,-0.00 L14.00,-1.00 L16.00,-4.00 L17.00,-9.00 L17.00,-12.00 L16.00,-17.00 L14.00,-20.00 L11.00,-21.00 L9.00,-21.00 M25.00,-2.00 L24.00,-1.00 L25.00,-0.00 L26.00,-1.00 L25.00,-2.00 M34.00,-16.00 L34.00,-17.00 L35.00,-19.00 L36.00,-20.00 L38.00,-21.00 L42.00,-21.00 L44.00,-20.00 L45.00,-19.00 L46.00,-17.00 L46.00,-15.00 L45.00,-13.00 L43.00,-10.00 L33.00,-0.00 L47.00,-0.00" fill="none" stroke="#000" stroke-width="2.433" stroke-linecap="round" stroke-linejoin="round"/>
<path transform="translate(321.14,492.30) scale(0.4943,0.5190)" d="M9.00,-21.00 L6.00,-20.00 L4.00,-17.00 L3.00,-12.00 L3.00,-9.00 L4.00,-4.00 L6.00,-1.00 L9.00,-0.00 L11.00,-0.00 L14.00,-1.00 L16.00,-4.00 L17.00,-9.00 L17.00,-12.00 L16.00,-17.00 L14.00,-20.00 L11.00,-21.00 L9.00,-21.00 M25.00,-2.00 L24.00,-1.00 L25.00,-0.00 L26.00,-1.00 L25.00,-2.00 M45.00,-21.00 L35.00,-21.00 L34.00,-12.00 L35.00,-13.00 L38.00,-14.00 L41.00,-14.00 L44.00,-13.00 L46.00,-11.00 L47.00,-8.00 L47.00,-6.00 L46.00,-3.00 L44.00,-1.00 L41.00,-0.00 L38.00,-0.00 L35.00,-1.00 L34.00,-2.00 L33.00,-4.00" fill="none" stroke="#000" stroke-width="2.467" stroke-linecap="round" stroke-linejoin="round"/>
<path transform="translate(444.73,492.30) scale(0.5000,0.5250)" d="M6.00,-17.00 L8.00,-18.00 L11.00,-21.00 L11.00,-0.00" fill="none" stroke="#000" stroke-width="2.439" stroke-linecap="round" stroke-linejoin="round"/>
<path transform="translate(561.23,492.30) scale(0.5000,0.5250)" d="M4.00,-16.00 L4.00,-17.00 L5.00,-19.00 L6.00,-20.00 L8.00,-21.00 L12.00,-21.00 L14.00,-20.00 L15.00,-19.00 L16.00,-17.00 L16.00,-15.00 L15.00,-13.00 L13.00,-10.00 L3.00,-0.00 L17.00,-0.00" fill="none" stroke="#000" stroke-width="2.439" stroke-linecap="round" stroke-linejoin="round"/>
<path transform="translate(280.09,512.40) scale(0.5026,0.5026)" d="M4.00,-21.00 L4.00,-0.00 M4.00,-21.00 L17.00,-21.00 M4.00,-11.00 L12.00,-11.00 M4.00,-0.00 L17.00,-0.00 M23.00,-14.00 L23.00,-0.00 M23.00,-10.00 L26.00,-13.00 L28.00,-14.00 L31.00,-14.00 L33.00,-13.00 L34.00,-10.00 L34.00,-0.00 M41.00,-8.00 L53.00,-8.00 L53.00,-10.00 L52.00,-12.00 L51.00,-13.00 L49.00,-14.00 L46.00,-14.00 L44.00,-13.00 L42.00,-11.00 L41.00,-8.00 L41.00,-6.00 L42.00,-3.00 L44.00,-1.00 L46.00,-0.00 L49.00,-0.00 L51.00,-1.00 L53.00,-3.00 M60.00,-14.00 L60.00,-0.00 M60.00,-8.00 L61.00,-11.00 L63.00,-13.00 L65.00,-14.00 L68.00,-14.00 M84.00,-14.00 L84.00,2.00 L83.00,5.00 L82.00,6.00 L80.00,7.00 L77.00,7.00 L75.00,6.00 M84.00,-11.00 L82.00,-13.00 L80.00,-14.00 L77.00,-14.00 L75.00,-13.00 L73.00,-11.00 L72.00,-8.00 L72.00,-6.00 L73.00,-3.00 L75.00,-1.00 L77.00,-0.00 L80.00,-0.00 L82.00,-1.00 L84.00,-3.00 M90.00,-14.00 L96.00,-0.00 M102.00,-14.00 L96.00,-0.00 L94.00,4.00 L92.00,6.00 L90.00,7.00 L89.00,7.00 M131.00,-25.00 L129.00,-23.00 L127.00,-20.00 L125.00,-16.00 L124.00,-11.00 L124.00,-7.00 L125.00,-2.00 L127.00,2.00 L129.00,5.00 L131.00,7.00 M138.00,-21.00 L138.00,-0.00 M148.00,-14.00 L138.00,-4.00 M142.00,-8.00 L149.00,-0.00 M154.00,-8.00 L166.00,-8.00 L166.00,-10.00 L165.00,-12.00 L164.00,-13.00 L162.00,-14.00 L159.00,-14.00 L157.00,-13.00 L155.00,-11.00 L154.00,-8.00 L154.00,-6.00 L155.00,-3.00 L157.00,-1.00 L159.00,-0.00 L162.00,-0.00 L164.00,-1.00 L166.00,-3.00 M170.00,-21.00 L178.00,-0.00 M186.00,-21.00 L178.00,-0.00 M190.00,-25.00 L192.00,-23.00 L194.00,-20.00 L196.00,-16.00 L197.00,-11.00 L197.00,-7.00 L196.00,-2.00 L194.00,2.00 L192.00,5.00 L190.00,7.00" fill="none" stroke="#000" stroke-width="1.990" stroke-linecap="round" stroke-linejoin="round"/>
</g>
<line x1="62.65" y1="240.60" x2="597.35" y2="240.60" stroke="#000" stroke-width="1.55"/>
<line x1="62.65" y1="357.40" x2="597.35" y2="357.40" stroke="#000" stroke-width="1.6"/>
</svg>
</body></html>
